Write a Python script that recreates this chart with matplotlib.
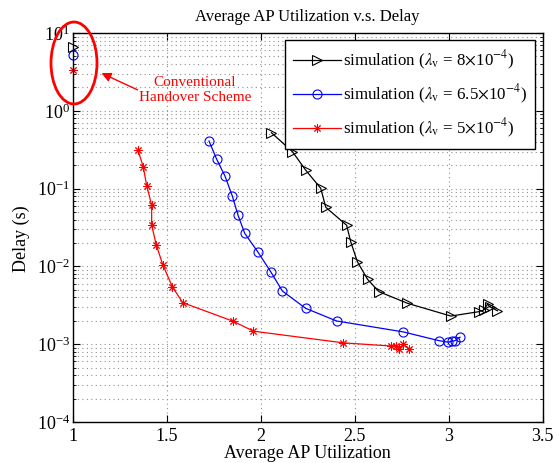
import matplotlib
matplotlib.use("Agg")
import matplotlib.pyplot as plt
from matplotlib.patches import Ellipse
from matplotlib.ticker import LogLocator, NullFormatter

plt.rcParams['font.family'] = ['Liberation Serif', 'DejaVu Serif']
plt.rcParams['mathtext.fontset'] = 'stix'

# Conventional handover scheme (at utilization 1)
conv_x = [1.0, 1.0, 1.0]
conv_delay = [6.67, 5.21, 3.34]

# lambda_v = 8e-4
util_8 = [2.057, 2.169, 2.239, 2.319, 2.346, 2.457, 2.479, 2.514, 2.568, 2.629,
          2.780, 3.011, 3.161, 3.186, 3.207, 3.218, 3.259]
delay_8 = [0.523, 0.298, 0.173, 0.101, 0.0575, 0.0338, 0.0206, 0.0115, 0.00683,
           0.00473, 0.00336, 0.00230, 0.00262, 0.00275, 0.00329, 0.00303, 0.00269]

# lambda_v = 6.5e-4
util_65 = [1.725, 1.766, 1.810, 1.849, 1.879, 1.915, 1.986, 2.053, 2.115, 2.239,
           2.403, 2.757, 2.948, 2.998, 3.016, 3.032, 3.060]
delay_65 = [0.409, 0.238, 0.145, 0.0803, 0.0458, 0.0266, 0.0152, 0.00855, 0.00483,
            0.00289, 0.00199, 0.00144, 0.00111, 0.00106, 0.00109, 0.00111, 0.00123]

# lambda_v = 5e-4
util_5 = [1.347, 1.376, 1.394, 1.420, 1.420, 1.445, 1.480, 1.530, 1.585, 1.854,
          1.961, 2.440, 2.691, 2.718, 2.736, 2.759, 2.789]
delay_5 = [0.313, 0.188, 0.108, 0.0615, 0.0340, 0.0187, 0.0104, 0.00548, 0.00342,
           0.00197, 0.00147, 0.00104, 0.000948, 0.000957, 0.000868, 0.000997, 0.000868]

labels = [r'simulation ($\lambda_{\mathrm{v}}$ = 8$\times$10$^{-4}$)',
          r'simulation ($\lambda_{\mathrm{v}}$ = 6.5$\times$10$^{-4}$)',
          r'simulation ($\lambda_{\mathrm{v}}$ = 5$\times$10$^{-4}$)']

ASTER = (8, 2, 0)  # 8-ray asterisk marker

fig = plt.figure(figsize=(5.59, 4.63), dpi=100)
ax = fig.add_axes([0.130, 0.0886, 0.841, 0.840])

ax.plot(util_8, delay_8, color='black', marker='>', mfc='none', ms=6.5, lw=0.9, mew=0.8,
        label=labels[0])
ax.plot(util_65, delay_65, color='blue', marker='o', mfc='none', ms=6.5, lw=0.9, mew=0.8,
        label=labels[1])
ax.plot(util_5, delay_5, color='red', marker=ASTER, ms=6, lw=0.9, mew=0.7,
        label=labels[2])

ax.plot(conv_x[0], conv_delay[0], color='black', marker='>', mfc='none', ms=6.5, mew=0.8, ls='none', clip_on=False)
ax.plot(conv_x[1], conv_delay[1], color='blue', marker='o', mfc='none', ms=6.5, mew=0.8, ls='none', clip_on=False)
ax.plot(conv_x[2], conv_delay[2], color='red', marker=ASTER, ms=6, mew=0.7, ls='none', clip_on=False)

ax.set_yscale('log')
ax.set_xlim(1, 3.5)
ax.set_ylim(1e-4, 10)
ax.set_xticks([1, 1.5, 2, 2.5, 3, 3.5])
ax.set_xticklabels(['1', '1.5', '2', '2.5', '3', '3.5'])
ax.yaxis.set_major_locator(LogLocator(base=10, numticks=10))
ax.yaxis.set_minor_locator(LogLocator(base=10, subs=range(2, 10), numticks=20))
ax.yaxis.set_minor_formatter(NullFormatter())

ax.tick_params(axis='both', which='both', direction='in', top=True, right=True,
               labelsize=13)
ax.tick_params(axis='x', pad=4)
ax.tick_params(axis='y', pad=2)
ax.tick_params(which='major', length=5)
ax.tick_params(which='minor', length=2.5)
ax.grid(True, which='major', axis='x', ls=(0, (1, 3)), color='#909090', lw=0.8)
ax.grid(True, which='both', axis='y', ls=(0, (1, 3)), color='#909090', lw=0.8)
for s in ax.spines.values():
    s.set_linewidth(1.0)

ax.set_title('Average AP Utilization v.s. Delay', fontsize=12, pad=9)
ax.set_xlabel('Average AP Utilization', fontsize=13, labelpad=0)
ax.set_ylabel('Delay (s)', fontsize=13)
ax.yaxis.set_label_coords(-0.09, 0.47)

leg = ax.legend(loc='upper right', fontsize=12.2, frameon=True, fancybox=False,
                edgecolor='black', framealpha=1, borderpad=0.5, labelspacing=0.65,
                handlelength=2.8, handletextpad=0.12, borderaxespad=0,
                bbox_to_anchor=(0.984, 0.982))
leg.get_frame().set_linewidth(1.0)

# Highlight of the conventional scheme
ell = Ellipse((0.74, 4.00), 0.46, 0.82, transform=fig.dpi_scale_trans,
              fill=False, edgecolor='red', lw=2.0, clip_on=False)
fig.add_artist(ell)
ax.annotate('', xy=(0.99, 3.91), xycoords=fig.dpi_scale_trans,
            xytext=(1.40, 3.72), textcoords=fig.dpi_scale_trans,
            arrowprops=dict(arrowstyle='-|>', color='red', lw=1.0, mutation_scale=14))
fig.text(1.95, 3.73, 'Conventional\nHandover Scheme', transform=fig.dpi_scale_trans,
         color='red', fontsize=11, ha='center', va='center', linespacing=1.2)

fig.savefig('out.png', dpi=100)
